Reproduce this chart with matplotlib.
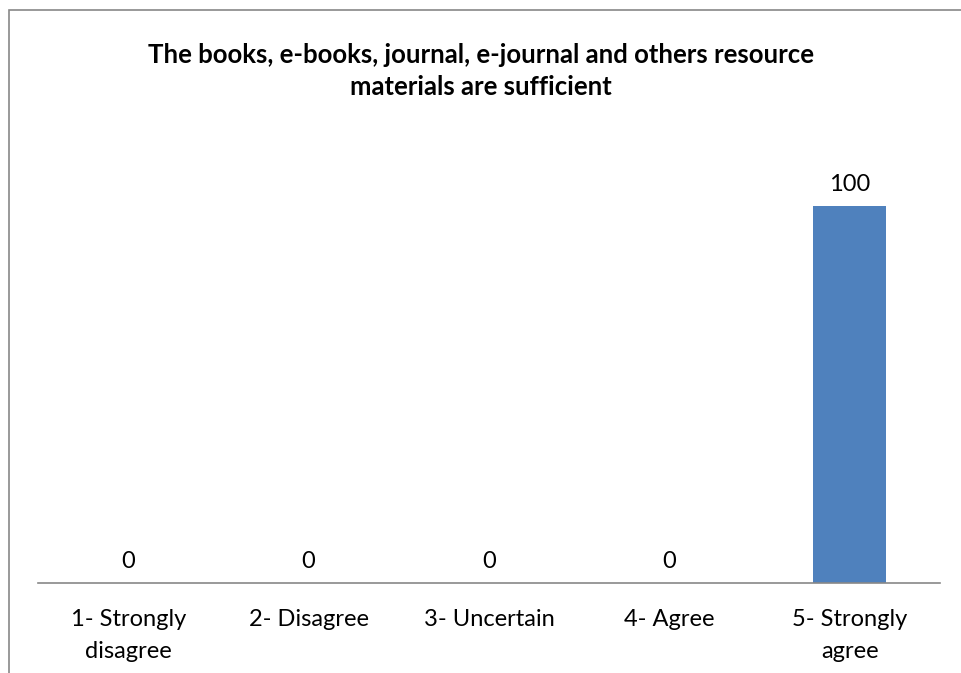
import numpy as np
import matplotlib.pyplot as plt
from matplotlib.patches import Rectangle

categories = ['1- Strongly\ndisagree', '2- Disagree', '3- Uncertain', '4- Agree', '5- Strongly\nagree']
values = [0, 0, 0, 0, 100]
title = 'The books, e-books, journal, e-journal and others resource\nmaterials are sufficient'

plt.rcParams['font.family'] = ['Lato', 'DejaVu Sans']

fig = plt.figure(figsize=(9.62, 6.73), dpi=100)
# chart border (left and top visible)
fig.patches.append(Rectangle((8.5/962, -0.1), 1.2, 1.1 - 10.5/673, transform=fig.transFigure,
                             fill=False, edgecolor='#888888', linewidth=1.2))

# axes area in pixels: x 38..940, y 131..583
ax = fig.add_axes([38/962, 1 - 583/673, 902/962, 452/673])
x = np.arange(len(categories))
ax.bar(x, values, width=0.405, color='#4F81BD')
ax.set_xlim(-0.5, 4.5)
ax.set_ylim(0, 120)
for xi, v in zip(x, values):
    ax.text(xi, v + 3.0, str(v), ha='center', va='bottom', fontsize=17)

for s in ['top', 'right', 'left']:
    ax.spines[s].set_visible(False)
ax.spines['bottom'].set_color('#888888')
ax.spines['bottom'].set_linewidth(1.2)
ax.set_yticks([])
ax.set_xticks(x)
ax.set_xticklabels(categories, fontsize=17, linespacing=1.62)
ax.tick_params(axis='x', length=0, pad=19)

fig.text(0.5, 1 - 71/673, title, ha='center', va='center', fontsize=18.5,
         fontweight='bold', linespacing=1.42)

plt.savefig('out.png', dpi=100)
